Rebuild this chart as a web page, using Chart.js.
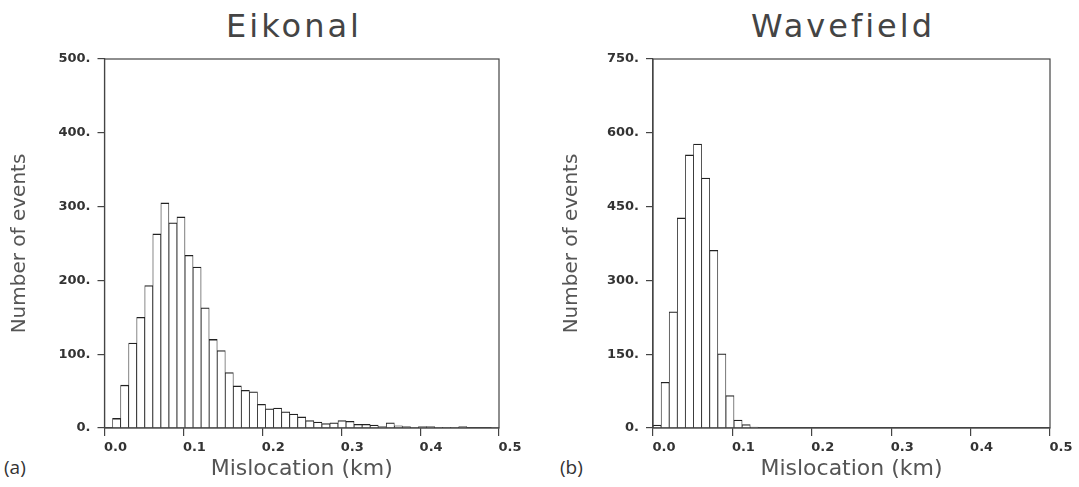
<!DOCTYPE html>
<html>
<head>
<meta charset="utf-8">
<script src="https://cdn.jsdelivr.net/npm/chart.js@4.4.0/dist/chart.umd.min.js"></script>
<style>
body { margin: 0; background: #fff; width: 1079px; height: 487px; position: relative; overflow: hidden; font-family: "DejaVu Sans", sans-serif; }
canvas { position: absolute; top: 0; }
#eikonal { left: 0; }
#wavefield { left: 540px; }
.title { position: absolute; top: 10px; font-size: 32px; line-height: 32px; letter-spacing: 3px; color: #444; transform: translateX(-50%); white-space: nowrap; }
.panel { position: absolute; top: 454px; font-family: "Open Sans", sans-serif; font-size: 19px; color: #333; }
</style>
</head>
<body>
<div class="title" style="left:294px">Eikonal</div>
<div class="title" style="left:843px">Wavefield</div>
<div class="panel" style="left:4px">(a)</div>
<div class="panel" style="left:560px">(b)</div>
<canvas id="eikonal" width="540" height="487"></canvas>
<canvas id="wavefield" width="539" height="487"></canvas>
<script>
// counts per bin, 49 bins between 0 and 0.5 km
var eikonalCounts = [0, 13, 58, 115, 150, 193, 263, 305, 278, 286, 234, 218, 163, 120, 105, 75, 57, 51, 49, 32,
    26, 27, 22, 19, 15, 10, 8, 6, 7, 10, 9, 5, 5, 4, 2, 7, 3, 2, 1, 2,
    2, 1, 1, 1, 2, 0, 0, 0, 1];
var wavefieldCounts = [6, 93, 236, 427, 555, 577, 508, 361, 151, 66, 16, 7, 2, 1, 0, 0, 0, 0, 0, 0,
    0, 0, 0, 0, 0, 0, 0, 0, 0, 0, 0, 0, 0, 0, 0, 0, 0, 0, 0, 0,
    0, 0, 0, 0, 0, 0, 0, 0, 0];
var binLabels = eikonalCounts.map(function(_, i) { return 'bin ' + (i + 1); });
var xMin = 0, xMax = 0.5, xStep = 0.1;
var eikonalYMax = 500, eikonalYStep = 100;
var wavefieldYMax = 750, wavefieldYStep = 150;

var frame = {
    id: 'frame',
    afterDatasetsDraw: function(chart) {
        var a = chart.chartArea, ctx = chart.ctx;
        ctx.save();
        ctx.strokeStyle = '#444';
        ctx.lineWidth = 1.2;
        ctx.strokeRect(a.left, a.top, a.right - a.left, a.bottom - a.top);
        ctx.restore();
    }
};

var tickFont = { family: 'DejaVu Sans', weight: 'bold', size: 13 };
var yTitleFont = { family: 'DejaVu Sans', size: 20 };
var xTitleFont = { family: 'DejaVu Sans', size: 22 };

function makeHistogram(canvasId, counts, yMax, yStep, box) {
    return new Chart(document.getElementById(canvasId), {
        type: 'bar',
        data: {
            labels: binLabels,
            datasets: [{
                data: counts,
                xAxisID: 'x',
                backgroundColor: '#fff',
                borderColor: '#222',
                borderWidth: { top: 1.3, left: 0.8, right: 0.8, bottom: 0 },
                barPercentage: 1,
                categoryPercentage: 1
            }]
        },
        options: {
            responsive: false,
            animation: false,
            layout: { padding: { left: 0, top: 59, right: box.right, bottom: 0 } },
            plugins: { legend: { display: false }, tooltip: { enabled: false } },
            scales: {
                x: { type: 'category', display: false },
                x2: {
                    type: 'linear', position: 'bottom', min: xMin, max: xMax, offset: false,
                    ticks: { stepSize: xStep, labelOffset: 11, padding: 4, color: '#333', font: tickFont,
                        callback: function(v) { return v.toFixed(1); } },
                    grid: { offset: false, drawOnChartArea: false, tickLength: 8, color: '#444', lineWidth: 1.2 },
                    border: { color: '#444', width: 1.2 },
                    title: { display: true, text: 'Mislocation (km)', color: '#555', font: xTitleFont, padding: { top: 0, bottom: 5 } },
                    afterFit: function(s) { s.height = 59; }
                },
                y: {
                    min: 0, max: yMax,
                    ticks: { stepSize: yStep, padding: 7, color: '#333', font: tickFont,
                        callback: function(v) { return v + '.'; } },
                    grid: { drawOnChartArea: false, tickLength: 7, color: '#444', lineWidth: 1.2 },
                    border: { color: '#444', width: 1.2 },
                    title: { display: true, text: 'Number of events', color: '#555', font: yTitleFont, padding: { top: box.titleGap, bottom: 0 } },
                    afterFit: function(s) { s.width = box.left; }
                }
            }
        },
        plugins: [frame]
    });
}

makeHistogram('eikonal', eikonalCounts, eikonalYMax, eikonalYStep, { left: 104.5, right: 41, titleGap: 8 });
makeHistogram('wavefield', wavefieldCounts, wavefieldYMax, wavefieldYStep, { left: 113, right: 29, titleGap: 20 });
</script>
</body>
</html>
